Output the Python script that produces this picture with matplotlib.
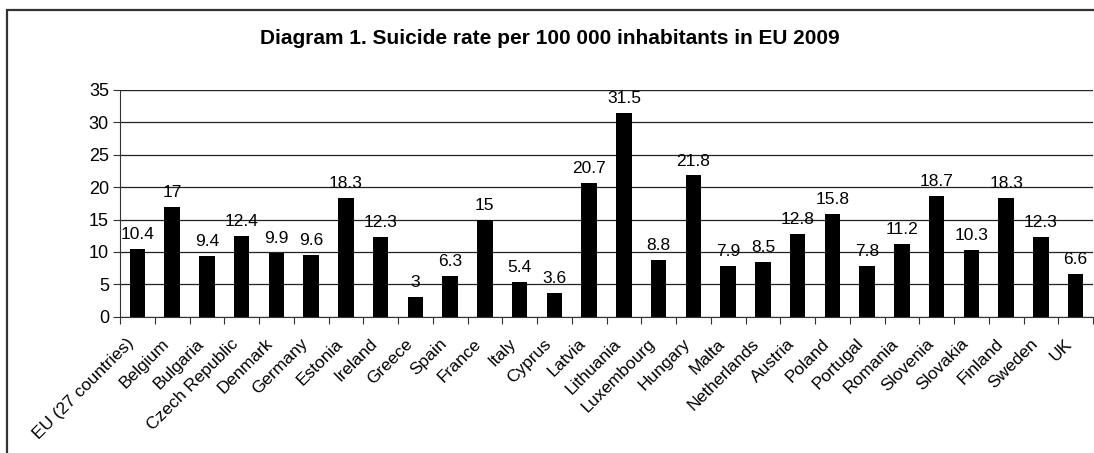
import matplotlib.pyplot as plt
from matplotlib.patches import Rectangle
from matplotlib.transforms import ScaledTranslation
import numpy as np

plt.rcParams['font.family'] = ['Liberation Sans', 'DejaVu Sans']

countries = ["EU (27 countries)", "Belgium", "Bulgaria", "Czech Republic", "Denmark",
             "Germany", "Estonia", "Ireland", "Greece", "Spain", "France", "Italy",
             "Cyprus", "Latvia", "Lithuania", "Luxembourg", "Hungary", "Malta",
             "Netherlands", "Austria", "Poland", "Portugal", "Romania", "Slovenia",
             "Slovakia", "Finland", "Sweden", "UK"]
rates = [10.4, 17, 9.4, 12.4, 9.9, 9.6, 18.3, 12.3, 3, 6.3, 15, 5.4, 3.6, 20.7,
         31.5, 8.8, 21.8, 7.9, 8.5, 12.8, 15.8, 7.8, 11.2, 18.7, 10.3, 18.3, 12.3, 6.6]
labels = ["10.4", "17", "9.4", "12.4", "9.9", "9.6", "18.3", "12.3", "3", "6.3", "15",
          "5.4", "3.6", "20.7", "31.5", "8.8", "21.8", "7.9", "8.5", "12.8", "15.8",
          "7.8", "11.2", "18.7", "10.3", "18.3", "12.3", "6.6"]

fig = plt.figure(figsize=(10.94, 4.53), dpi=100)
ax = fig.add_axes([120/1094, 1 - 316.7/453, (1093 - 120)/1094, (316.7 - 90)/453])

# outer chart border (cut off at right and bottom)
fig.patches.append(Rectangle((7/1094, -0.1), 1.2, 0.978 + 0.1, transform=fig.transFigure,
                             fill=False, edgecolor='#333333', linewidth=1.6))

x = np.arange(len(countries))
ax.bar(x, rates, width=0.45, color='black', zorder=3)
for xi, v, t in zip(x, rates, labels):
    ax.annotate(t, (xi, v), xytext=(0, 5), textcoords='offset points',
                ha='center', va='bottom', fontsize=12.5)

ax.set_xlim(-0.5, len(countries) - 0.5)
ax.set_ylim(0, 35)
ax.set_yticks(range(0, 36, 5))
ax.tick_params(axis='y', labelsize=13, length=5, color='#333333', pad=3)
ax.set_xticks(np.arange(-0.5, len(countries), 1))
ax.set_xticklabels([])
ax.set_xticks(x, minor=True)
ax.set_xticklabels(countries, minor=True, rotation=45, ha='right', va='top',
                   rotation_mode='anchor', fontsize=12.5)
ax.tick_params(axis='x', which='major', length=5, color='#333333')
ax.tick_params(axis='x', which='minor', length=0, pad=6)
shift = ScaledTranslation(-0.11, -0.11, fig.dpi_scale_trans)
for lab in ax.get_xticklabels(minor=True):
    lab.set_transform(lab.get_transform() + shift)

ax.grid(axis='y', color='#222222', linewidth=0.9, zorder=0)
for s in ['top', 'right']:
    ax.spines[s].set_visible(False)
ax.spines['left'].set_color('#333333')
ax.spines['bottom'].set_color('#333333')
ax.axhline(35, color='#c8c8c8', linewidth=1, zorder=1)

fig.text(550/1094, 1 - 38/453, "Diagram 1. Suicide rate per 100 000 inhabitants in EU 2009",
         ha='center', va='center', fontsize=15, fontweight='bold')

fig.savefig('out.png', dpi=100)
